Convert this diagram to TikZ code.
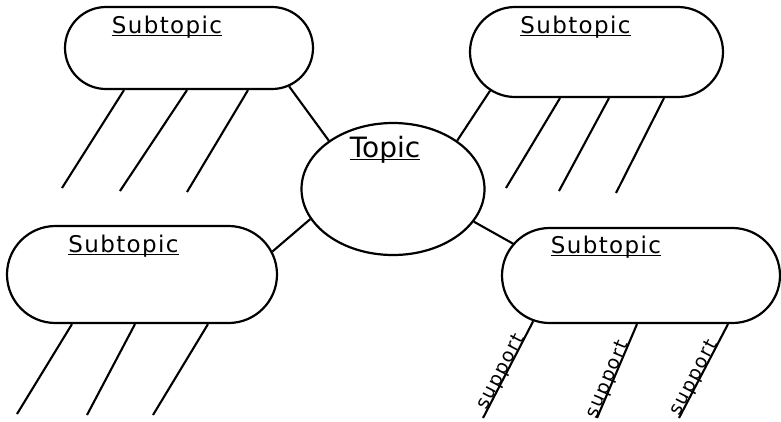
\documentclass[tikz,border=0pt]{standalone}
\usepackage{fontspec}
\setmainfont{DejaVu Sans}
\usetikzlibrary{shapes.misc,shapes.geometric}
\begin{document}
\begin{tikzpicture}[x=1pt,y=-1pt,
  blob/.style={draw, rounded rectangle, inner sep=0pt, line width=2.2pt},
  topicshape/.style={draw, ellipse, inner sep=0pt, line width=2.2pt},
  link/.style={line width=2.1pt},
  ul/.style={line width=1.8pt},
  sublabel/.style={font=\fontsize{23}{23}\selectfont\addfontfeature{LetterSpace=6}, inner sep=0pt, anchor=base},
  topiclabel/.style={font=\fontsize{28}{28}\selectfont, inner sep=0pt, anchor=base},
  suptext/.style={font=\fontsize{19}{19}\selectfont\addfontfeature{LetterSpace=8}, sloped, anchor=base, inner sep=0pt}
]
\useasboundingbox[fill=white] (0,0) rectangle (781,421);

% shapes
\node[blob, minimum width=248pt, minimum height=82pt] (tl) at (189,48) {};
\node[blob, minimum width=253pt, minimum height=90pt] (tr) at (596.5,52) {};
\node[blob, minimum width=270pt, minimum height=97pt] (bl) at (142,274.5) {};
\node[blob, minimum width=278pt, minimum height=95pt] (br) at (641,275.5) {};
\node[topicshape, minimum width=183pt, minimum height=132pt] (topic) at (393,189) {};

% labels
\node[sublabel] (ltl) at (167,33) {Subtopic};
\node[sublabel] (ltr) at (575.5,33) {Subtopic};
\node[sublabel] (lbl) at (123.5,252) {Subtopic};
\node[sublabel] (lbr) at (606,253) {Subtopic};
\node[topiclabel] (ltopic) at (385,157) {Topic};

\foreach \n in {ltl,ltr,lbl,lbr,ltopic}
  \draw[ul] ([yshift=-2.5pt]\n.base west) -- ([yshift=-2.5pt]\n.base east);

% topic links
\draw[link] (tl.-21) -- (topic.143);
\draw[link] (tr.200) -- (topic.37);
\draw[link] (bl.10.6) -- (topic.200);
\draw[link] (br.166) -- (topic.-22);

% free ends
\coordinate (e1) at (62,188);
\coordinate (e2) at (120,191);
\coordinate (e3) at (187,192);
\coordinate (e4) at (506,188);
\coordinate (e5) at (559,191);
\coordinate (e6) at (616,193);
\coordinate (e7) at (17,414);
\coordinate (e8) at (87,415);
\coordinate (e9) at (153,415);
\coordinate (e10) at (483,418);
\coordinate (e11) at (597,418);
\coordinate (e12) at (679,418);

% supports
\draw[link] ([xshift=-65pt]tl.south) -- (e1);
\draw[link] ([xshift=-2pt]tl.south) -- (e2);
\draw[link] ([xshift=59pt]tl.south) -- (e3);
\draw[link] ([xshift=-36.5pt]tr.south) -- (e4);
\draw[link] ([xshift=12.5pt]tr.south) -- (e5);
\draw[link] ([xshift=67.5pt]tr.south) -- (e6);
\draw[link] ([xshift=-70pt]bl.south) -- (e7);
\draw[link] ([xshift=-7pt]bl.south) -- (e8);
\draw[link] ([xshift=66pt]bl.south) -- (e9);
\draw[link] (e10) -- node[suptext, pos=0.45] {support} (br.203);
\draw[link] (e11) -- node[suptext, pos=0.39] {support} ([xshift=-4pt]br.south);
\draw[link] (e12) -- node[suptext, pos=0.40] {support} ([xshift=87pt]br.south);
\end{tikzpicture}
\end{document}
